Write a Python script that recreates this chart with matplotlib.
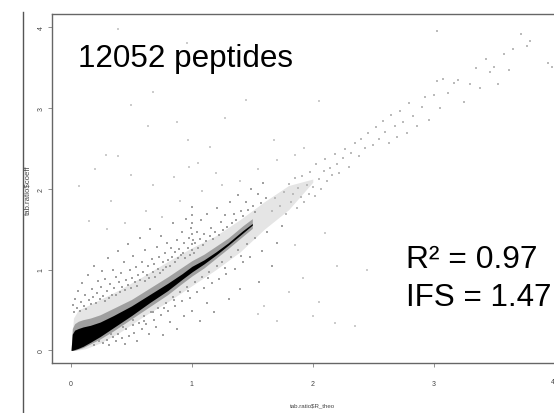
import matplotlib
matplotlib.use('Agg')
import matplotlib.pyplot as plt

plt.rcParams['font.family'] = ['Liberation Sans', 'DejaVu Sans']

# Dense ridge of the cloud
band_x = [0.0, 0.01, 0.03, 0.06, 0.1, 0.16, 0.24, 0.35, 0.5, 0.65, 0.8, 0.92, 1.0, 1.1, 1.2, 1.3, 1.42, 1.5]
core_low = [0.0, 0.0, 0.01, 0.025, 0.05, 0.1, 0.17, 0.28, 0.43, 0.59, 0.74, 0.88, 0.97, 1.07, 1.18, 1.3, 1.45, 1.55]
core_high = [0.0, 0.2, 0.25, 0.27, 0.29, 0.31, 0.35, 0.43, 0.55, 0.69, 0.83, 0.95, 1.04, 1.12, 1.22, 1.33, 1.48, 1.57]
mid_low = [0.0, 0.0, 0.0, 0.015, 0.035, 0.08, 0.14, 0.24, 0.39, 0.54, 0.69, 0.83, 0.92, 1.02, 1.14, 1.26, 1.41, 1.51]
mid_high = [0.0, 0.27, 0.33, 0.36, 0.38, 0.4, 0.44, 0.52, 0.63, 0.77, 0.91, 1.03, 1.11, 1.19, 1.29, 1.39, 1.54, 1.63]

haze_x = [0.0, 0.02, 0.06, 0.12, 0.24, 0.4, 0.6, 0.8, 1.0, 1.2, 1.4, 1.6, 1.8, 2.0]
haze_low = [0.0, 0.0, 0.005, 0.02, 0.09, 0.22, 0.42, 0.6, 0.8, 1.0, 1.22, 1.5, 1.74, 2.08]
haze_high = [0.0, 0.4, 0.5, 0.54, 0.63, 0.75, 0.92, 1.1, 1.27, 1.42, 1.62, 1.84, 2.04, 2.12]

upper_specks = [(0.013, 0.56), (0.027, 0.47), (0.034, 0.63), (0.046, 0.52), (0.058, 0.74), (0.071, 0.49), (0.083, 0.6),
    (0.094, 0.83), (0.107, 0.55), (0.118, 0.68), (0.126, 0.51), (0.139, 0.93), (0.147, 0.62), (0.163, 0.57),
    (0.171, 0.76), (0.184, 0.66), (0.192, 1.04), (0.203, 0.59), (0.216, 0.71), (0.224, 0.86), (0.237, 0.63),
    (0.249, 0.79), (0.258, 0.98), (0.263, 0.67), (0.279, 0.61), (0.284, 0.88), (0.296, 0.73), (0.308, 1.14),
    (0.317, 0.65), (0.323, 0.82), (0.338, 0.69), (0.344, 1.0), (0.356, 0.77), (0.369, 0.91), (0.374, 0.68),
    (0.387, 1.23), (0.395, 0.84), (0.403, 0.72), (0.414, 0.96), (0.422, 0.79), (0.437, 1.09), (0.444, 0.75),
    (0.453, 0.87), (0.468, 1.31), (0.472, 0.81), (0.486, 0.99), (0.493, 0.77), (0.507, 0.89), (0.514, 1.17),
    (0.526, 0.84), (0.538, 1.03), (0.547, 0.8), (0.553, 0.93), (0.568, 1.39), (0.574, 0.87), (0.589, 1.09),
    (0.597, 0.97), (0.608, 0.86), (0.616, 1.24), (0.627, 0.93), (0.639, 1.04), (0.648, 0.89), (0.657, 1.5),
    (0.669, 1.13), (0.677, 0.97), (0.688, 1.07), (0.694, 0.91), (0.709, 1.28), (0.716, 1.01), (0.728, 1.15),
    (0.733, 0.96), (0.746, 1.41), (0.757, 1.09), (0.763, 1.0), (0.779, 1.21), (0.786, 1.03), (0.797, 1.33),
    (0.804, 1.12), (0.818, 1.05), (0.826, 1.27), (0.837, 1.16), (0.843, 1.58), (0.859, 1.09), (0.864, 1.22),
    (0.878, 1.37), (0.886, 1.14), (0.897, 1.26), (0.906, 1.18), (0.915, 1.46), (0.928, 1.21), (0.934, 1.33),
    (0.947, 1.14), (0.953, 1.62), (0.968, 1.27), (0.975, 1.39), (0.986, 1.18), (0.992, 1.52), (0.997, 1.31),
    (1.0, 1.68), (1.002, 1.44), (1.004, 1.24), (1.0, 1.77), (1.006, 1.36), (1.003, 1.58), (1.017, 1.21),
    (1.028, 1.33), (1.039, 1.47), (1.053, 1.27), (1.067, 1.38), (1.078, 1.61), (1.089, 1.3), (1.103, 1.44),
    (1.119, 1.35), (1.128, 1.69), (1.146, 1.41), (1.162, 1.52), (1.174, 1.38), (1.191, 1.46), (1.207, 1.76),
    (1.224, 1.43), (1.238, 1.59), (1.256, 1.49), (1.273, 1.67), (1.291, 1.53), (1.314, 1.83), (1.328, 1.58),
    (1.347, 1.69), (1.366, 1.61), (1.384, 1.92), (1.403, 1.72), (1.421, 1.66), (1.446, 1.83), (1.463, 1.74),
    (1.488, 2.0), (1.507, 1.79), (1.526, 1.71), (1.548, 1.94), (1.571, 1.82), (1.592, 2.07), (1.617, 1.88)]

lower_specks = [(0.19, 0.065), (0.23, 0.11), (0.262, 0.085), (0.294, 0.13), (0.318, 0.07), (0.347, 0.17), (0.371, 0.12),
    (0.392, 0.2), (0.418, 0.15), (0.443, 0.08), (0.457, 0.27), (0.483, 0.18), (0.509, 0.31), (0.524, 0.22),
    (0.546, 0.12), (0.563, 0.34), (0.586, 0.26), (0.603, 0.43), (0.622, 0.33), (0.641, 0.2), (0.664, 0.47),
    (0.683, 0.38), (0.702, 0.29), (0.719, 0.53), (0.743, 0.44), (0.761, 0.19), (0.782, 0.59), (0.803, 0.49),
    (0.816, 0.35), (0.841, 0.66), (0.862, 0.55), (0.874, 0.27), (0.903, 0.72), (0.918, 0.61), (0.937, 0.42),
    (0.959, 0.79), (0.982, 0.65), (1.0, 0.49), (1.023, 0.85), (1.041, 0.72), (1.063, 0.36), (1.081, 0.91),
    (1.104, 0.77), (1.126, 0.58), (1.142, 0.97), (1.163, 0.83), (1.184, 0.48), (1.207, 1.04), (1.226, 0.88),
    (1.251, 1.09), (1.283, 0.95), (1.304, 0.63), (1.322, 1.16), (1.353, 1.01), (1.381, 1.24), (1.402, 0.76),
    (1.424, 1.09), (1.453, 1.31), (1.484, 1.15), (1.521, 1.39), (1.552, 0.84), (1.583, 1.23), (1.624, 1.46),
    (1.662, 1.04), (1.703, 1.33), (1.742, 1.54), (0.51, 0.37), (0.33, 0.2), (0.68, 0.48), (0.85, 0.62),
    (0.97, 0.74), (1.13, 0.9), (1.27, 1.02), (1.41, 1.17), (0.43, 0.29), (0.6, 0.36), (0.77, 0.52)]

far_specks = [(0.39, 3.97), (0.96, 3.8), (0.68, 3.2), (0.5, 3.03), (0.64, 2.77), (0.88, 2.83), (1.27, 2.88),
    (1.45, 3.1), (1.15, 2.52), (0.97, 2.6), (0.29, 2.42), (0.39, 2.4), (0.2, 2.25), (0.07, 2.03),
    (0.5, 2.17), (0.68, 2.05), (0.98, 2.27), (0.85, 2.15), (1.05, 2.32), (1.2, 2.2), (0.33, 1.85),
    (0.15, 1.6), (0.3, 1.5), (0.45, 1.57), (0.62, 1.72), (0.75, 1.65), (0.9, 1.85), (1.08, 1.97),
    (1.25, 2.05), (1.4, 2.1), (1.55, 2.25), (1.7, 2.35), (1.85, 2.42), (1.93, 2.5), (1.68, 2.6),
    (2.05, 3.08), (1.85, 1.3), (2.1, 1.45), (2.2, 1.05), (2.45, 1.0), (1.92, 0.9), (2.05, 0.6),
    (1.8, 0.72), (2.0, 0.42), (2.18, 0.34), (2.35, 0.3), (1.55, 0.45), (1.7, 0.36), (1.6, 0.55)]

tail_specks = [(1.66, 1.72), (1.69, 1.88), (1.73, 1.79), (1.76, 1.96), (1.78, 1.69), (1.8, 2.06), (1.82, 1.84),
    (1.84, 1.94), (1.85, 2.13), (1.87, 1.76), (1.88, 2.01), (1.9, 1.9), (1.91, 2.16), (1.93, 1.83),
    (1.95, 2.05), (1.97, 1.94), (1.98, 2.21), (2.0, 2.02), (2.02, 1.91), (2.03, 2.31), (2.05, 2.12),
    (2.07, 2.0), (2.09, 2.22), (2.1, 2.37), (2.12, 2.09), (2.14, 2.26), (2.16, 2.17), (2.18, 2.43),
    (2.2, 2.3), (2.22, 2.19), (2.25, 2.38), (2.27, 2.49), (2.3, 2.27), (2.32, 2.44), (2.35, 2.57),
    (2.38, 2.4), (2.4, 2.61), (2.43, 2.5), (2.46, 2.69), (2.5, 2.54), (2.52, 2.76), (2.55, 2.62),
    (2.58, 2.84), (2.6, 2.7), (2.63, 2.57), (2.65, 2.91), (2.68, 2.77), (2.7, 2.64), (2.72, 2.96),
    (2.75, 2.82), (2.78, 2.69), (2.8, 3.06), (2.83, 2.9), (2.86, 2.77), (2.9, 3.01), (2.93, 3.13),
    (2.96, 2.85), (3.0, 3.16), (3.03, 3.33), (3.05, 3.0), (3.08, 3.36), (3.12, 3.19), (3.17, 3.31),
    (3.2, 3.34), (3.25, 3.07), (3.3, 3.29), (3.35, 3.49), (3.38, 3.24), (3.43, 3.61), (3.47, 3.44),
    (3.5, 3.5), (3.53, 3.29), (3.58, 3.67), (3.62, 3.47), (3.66, 3.73), (3.72, 3.91), (3.77, 3.76),
    (3.8, 3.83), (3.95, 3.55), (3.98, 3.5), (3.03, 3.95)]

x_ticks = [0, 1, 2, 3, 4]
y_ticks = [0, 1, 2, 3, 4]

fig = plt.figure(figsize=(5.54, 4.14), dpi=100)
ax = fig.add_axes([51.7 / 554, 1 - 364.3 / 414, 504 / 554, 349 / 414])
ax.set_xlim(-0.16, 4.01)
ax.set_ylim(-0.16, 4.158)

# soft stippled zone in steps, then the solid core
ax.fill_between(haze_x, haze_low, haze_high, color='black', alpha=0.1, lw=0)
ax.fill_between(band_x, mid_low, mid_high, color='black', alpha=0.3, lw=0)
ax.fill_between(band_x, core_low, core_high, color='black', lw=0)

for specks, shade in [(upper_specks, '#a0a0a0'), (lower_specks, '#a0a0a0'),
                      (far_specks, '#cccccc'), (tail_specks, '#bbbbbb')]:
    ax.scatter([p[0] for p in specks], [p[1] for p in specks], s=0.9, c=shade, marker='s', lw=0)

for side in ['top', 'bottom', 'left']:
    ax.spines[side].set_color('#666666')
    ax.spines[side].set_linewidth(1.0)
ax.spines['right'].set_visible(False)

ax.set_xticks(x_ticks)
ax.set_yticks(y_ticks)
ax.tick_params(length=3, width=0.5, color='#666666', labelsize=5, labelcolor='#444444')
ax.tick_params(axis='x', pad=9)
ax.tick_params(axis='y', labelrotation=90, pad=2)
for lab in ax.get_yticklabels():
    lab.set_va('center')
ax.get_xticklabels()[-1].set_visible(False)
ax.text(3.985, -0.39, '4', fontsize=5, color='#444444', ha='center', va='center', clip_on=False)

ax.set_xlabel('tab.ratio\\$R_theo', fontsize=4.4, color='#444444')
ax.set_ylabel('tab.ratio\\$coeff', fontsize=5.6, color='#444444')
ax.xaxis.set_label_coords((312.5 - 51.7) / 504, -(406 - 364.3) / 349, transform=ax.transAxes)
ax.xaxis.label.set_va('center')
ax.yaxis.set_label_coords(-(51.7 - 27.5) / 504, (364.3 - 190) / 349, transform=ax.transAxes)
ax.yaxis.label.set_va('center')

# outer rule left of the plot
fig.add_artist(plt.Line2D([22.5 / 554, 22.5 / 554], [0, 1 - 13 / 414], color='#555555', lw=1.0))

fig.text(78 / 554, 1 - 67 / 414, '12052 peptides', fontsize=22.6, color='black')
fig.text(406 / 554, 1 - 268 / 414, 'R² = 0.97', fontsize=22.9, color='black')
fig.text(406 / 554, 1 - 306 / 414, 'IFS = 1.47', fontsize=22.6, color='black')

fig.savefig('out.png', dpi=100)
